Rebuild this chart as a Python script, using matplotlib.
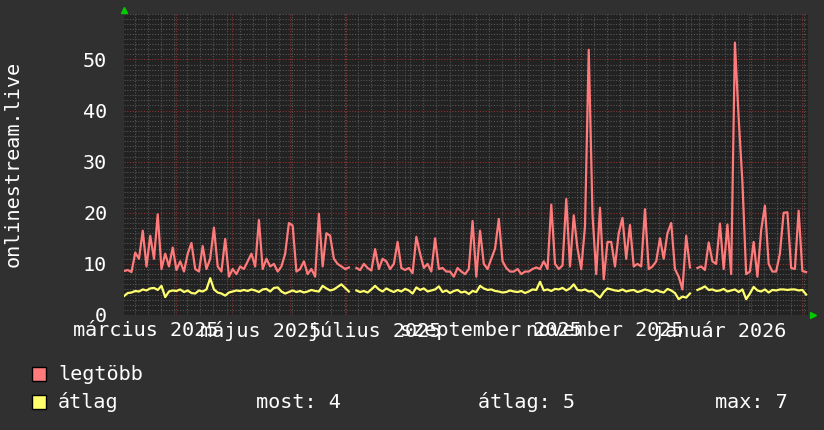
import numpy as np
import pandas as pd
import matplotlib
matplotlib.use("Agg")
import matplotlib.pyplot as plt
import matplotlib.dates as mdates
from matplotlib.ticker import MultipleLocator
from matplotlib.patches import Rectangle

nan = float("nan")

# 2-day samples starting 2025-03-04
legtobb = [
    8.6, 8.8, 8.4, 12.2, 11, 16.5, 9.5, 15.5, 11, 19.7,
    9, 12, 9.5, 13.2, 8.8, 10.5, 8.5, 12, 14.1, 9,
    8.5, 13.5, 9, 11, 17.1, 9.5, 8.5, 14.9, 7.5, 9,
    8, 9.5, 9, 10.5, 12, 9.5, 18.6, 9, 11, 9.5,
    10, 8.5, 9.5, 12, 18, 17.5, 8.5, 9, 10.5, 8,
    9, 7.5, 19.8, 9.5, 16, 15.5, 11, 10, 9.5, 9,
    9.3, nan, 9.2, 8.8, 10, 9.2, 8.7, 12.9, 9, 11,
    10.5, 9, 10, 14.3, 9.2, 8.8, 9.2, 8.2, 15.3, 12,
    9.2, 10, 8.5, 15, 9, 9.2, 8.5, 8.5, 7.5, 9.2,
    8.5, 8, 9, 18.4, 7.5, 16.5, 10, 9, 11, 13,
    18.8, 10.5, 9.2, 8.5, 8.5, 9, 8, 8.5, 8.5, 9,
    9.3, 9, 10.5, 9, 21.6, 10, 9, 9.7, 22.7, 9.5,
    19.5, 13, 9, 17.4, 51.9, 19.7, 8, 21, 7, 14.3,
    14.3, 9.5, 16, 19, 11, 17.6, 9.5, 10, 9.5, 20.7,
    9, 9.5, 10.5, 15, 11, 16, 18, 9, 7.5, 5,
    15.5, 9.3, nan, 9.2, 9.5, 8.8, 14.2, 10.5, 10, 17.9,
    9, 17.7, 8, 53.3, 38.5, 26, 8, 8.5, 14.3, 7.5,
    16.6, 21.4, 10, 8.5, 8.5, 12, 20, 20.1, 9.2, 9,
    20.4, 8.6, 8.4,
]

atlag = [
    3.7, 4.3, 4.4, 4.7, 4.6, 5.0, 4.8, 5.2, 5.3, 4.9,
    5.7, 3.5, 4.6, 4.8, 4.7, 5.0, 4.5, 4.8, 4.3, 4.2,
    4.8, 4.6, 5.0, 7.2, 5.0, 4.4, 4.2, 3.8, 4.4, 4.6,
    4.8, 4.7, 4.9, 4.7, 5.0, 4.8, 4.5, 5.0, 5.1, 4.6,
    5.3, 5.4, 4.6, 4.2, 4.5, 4.8, 4.5, 4.7, 4.4, 4.6,
    4.9, 4.7, 4.6, 5.7, 5.2, 4.8, 5.0, 5.5, 6.0, 5.3,
    4.6, nan, 4.8, 4.5, 4.7, 4.4, 5.0, 5.7, 5.0, 4.6,
    5.2, 4.8, 4.5, 4.9, 4.6, 5.1, 4.8, 4.2, 5.4, 4.9,
    5.2, 4.6, 4.8, 5.0, 5.6, 4.5, 4.8, 4.3, 4.7, 4.9,
    4.4, 4.6, 4.1, 4.7, 4.5, 5.7, 5.2, 4.9, 5.0, 4.7,
    4.6, 4.4, 4.5, 4.8, 4.6, 4.5, 4.7, 4.3, 4.6, 5.0,
    4.9, 6.5, 4.8, 5.0, 4.7, 5.1, 5.0, 5.3, 4.8, 5.2,
    6.0, 4.9, 4.8, 5.0, 4.6, 4.7, 4.0, 3.4, 4.5, 5.2,
    5.0, 4.8, 4.7, 5.0, 4.6, 4.8, 4.9, 4.5, 4.7, 5.0,
    4.8, 4.5, 4.9, 4.6, 4.4, 5.1, 4.8, 4.3, 3.1, 3.6,
    3.4, 4.2, nan, 4.9, 5.2, 5.6, 4.9, 5.0, 4.7, 4.8,
    5.1, 4.6, 4.8, 5.0, 4.5, 5.0, 3.1, 4.2, 5.5, 4.8,
    4.6, 5.0, 4.4, 4.9, 4.8, 5.0, 5.0, 4.9, 5.0, 5.0,
    4.8, 4.9, 4.0,
]

month_labels = ["március 2025", "május 2025", "július 2025",
                "szeptember 2025", "november 2025", "január 2026"]
month_label_dates = ["2025-03-16", "2025-05-16", "2025-07-16",
                     "2025-09-16", "2025-11-16", "2026-01-16"]
y_label = "onlinestream.live"
legend_names = ["legtöbb", "átlag"]
stats = ["most: 4", "átlag: 5", "max: 7"]

RED = "#ff7a7a"
YEL = "#ffff6e"
FONT = "DejaVu Sans Mono"
FS = 14.5

start = pd.Timestamp("2025-03-04 07:00")
dates = start + pd.to_timedelta(np.arange(len(legtobb)) * 2, unit="D")

W, H = 824, 430
fig = plt.figure(figsize=(W / 100, H / 100), dpi=100, facecolor="#303030")
ax = fig.add_axes([124 / W, 1 - 315 / H, 684 / W, 301.5 / H])
ax.set_facecolor("#222222")

ax.set_xlim(start, start + pd.Timedelta(days=365))
ax.set_ylim(0, 59)
ax.xaxis.set_major_locator(mdates.MonthLocator())
ax.xaxis.set_minor_locator(mdates.WeekdayLocator(byweekday=mdates.MO))
ax.yaxis.set_major_locator(MultipleLocator(10))
ax.yaxis.set_minor_locator(MultipleLocator(1))
ax.grid(which="minor", color="#555555", ls=(0, (1, 1.5)), lw=0.8)
ax.grid(which="major", color="#8c3030", ls=(0, (1, 1.5)), lw=0.8)
ax.set_axisbelow(True)
for s in ax.spines.values():
    s.set_visible(False)
ax.tick_params(which="both", length=0)
ax.tick_params(axis="x", labelbottom=False)
ax.tick_params(axis="y", labelcolor="white", labelsize=FS, pad=12)
for lab in ax.get_yticklabels():
    lab.set_fontfamily(FONT)

ax.plot(dates, legtobb, color=RED, lw=1.6, zorder=3)
ax.plot(dates, atlag, color=YEL, lw=1.6, zorder=3)

for d, t in zip(month_label_dates, month_labels):
    ax.text(pd.Timestamp(d), -16 / 301.5, t, transform=ax.get_xaxis_transform(),
            ha="center", va="center", color="white", fontsize=FS, family=FONT,
            clip_on=False)

# axis arrows
ax.plot([0], [1 + 4 / 301.5], marker="^", ms=5, color="#00cc00",
        transform=ax.transAxes, clip_on=False)
ax.plot([1 + 5 / 684], [0], marker=">", ms=5, color="#00cc00",
        transform=ax.transAxes, clip_on=False)

fig.text(13 / W, 1 - 164 / H, y_label, rotation=90, ha="center", va="center",
         color="white", fontsize=FS, family=FONT)

# legend
for row, (name, col) in enumerate(zip(legend_names, [RED, YEL])):
    yc = 374 + row * 28
    fig.patches.append(Rectangle((32 / W, 1 - (yc + 7) / H), 14 / W, 14 / H,
                                 transform=fig.transFigure, facecolor=col,
                                 edgecolor="black", lw=1))
    fig.text(58 / W, 1 - yc / H, name, ha="left", va="center", color="white",
             fontsize=FS, family=FONT)

for x, t in zip([256, 478, 715], stats):
    fig.text(x / W, 1 - 402 / H, t, ha="left", va="center", color="white",
             fontsize=FS, family=FONT)

fig.savefig("out.png", dpi=100, facecolor=fig.get_facecolor())
